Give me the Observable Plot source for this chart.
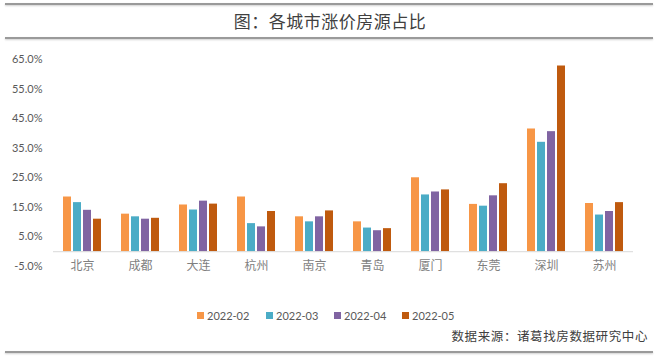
<!DOCTYPE html>
<html>
<head>
<meta charset="utf-8">
<script src="https://cdn.jsdelivr.net/npm/d3@7"></script>
<script src="https://cdn.jsdelivr.net/npm/@observablehq/plot@0.6"></script>
<style>
  html, body { margin: 0; padding: 0; background: #fff; }
  #wrap { position: relative; width: 660px; height: 358px; overflow: hidden; font-family: "Noto Sans CJK SC", sans-serif; }
  .hline { position: absolute; left: 5px; width: 648px; height: 2px; background: #9a9a9a; box-shadow: 0 1px 2px #cfcfcf; }
  #title { position: absolute; left: 0; top: 8px; width: 660px; text-align: center; font-size: 17px; color: #404040; letter-spacing: 0.5px; }
  #chart { position: absolute; left: 0; top: 42px; }
  #legend { position: absolute; top: 308px; left: 0; width: 660px; height: 16px; font-family: Lato, "Open Sans", sans-serif; font-size: 11px; color: #595959; }
  .li { position: absolute; top: 0; display: flex; align-items: center; height: 14px; }
  .sw { width: 7px; height: 7px; margin-right: 3px; }
  #source { position: absolute; top: 326px; right: 12px; font-size: 12.5px; color: #404040; letter-spacing: 0.6px; }
</style>
</head>
<body>
<div id="wrap">
  <div class="hline" style="top:3px;"></div>
  <div id="title">图：各城市涨价房源占比</div>
  <div class="hline" style="top:37px;"></div>
  <div id="chart"></div>
  <div id="legend"></div>
  <div id="source">数据来源：诸葛找房数据研究中心</div>
  <div class="hline" style="top:351px;"></div>
</div>
<script>
const cities = ["北京", "成都", "大连", "杭州", "南京", "青岛", "厦门", "东莞", "深圳", "苏州"];
const series = ["2022-02", "2022-03", "2022-04", "2022-05"];
const colors = ["#F79646", "#4BACC6", "#8064A2", "#BF5A0E"];
const v2022_02 = [18.5, 12.7, 15.8, 18.5, 11.8, 10.1, 25.0, 16.0, 41.5, 16.3];
const v2022_03 = [16.6, 11.8, 14.1, 9.5, 10.1, 8.0, 19.2, 15.4, 37.0, 12.4];
const v2022_04 = [14.0, 11.0, 17.1, 8.4, 11.8, 7.1, 20.2, 18.9, 40.6, 13.6];
const v2022_05 = [11.0, 11.3, 16.1, 13.6, 13.8, 7.8, 20.9, 23.0, 62.8, 16.6];
const yTicks = [-5, 5, 15, 25, 35, 45, 55, 65];

const valueLists = [v2022_02, v2022_03, v2022_04, v2022_05];
const data = [];
cities.forEach((c, i) => {
  series.forEach((s, j) => data.push({city: c, series: s, value: valueLists[j][i]}));
});

const chart = Plot.plot({
  width: 660,
  height: 250,
  marginLeft: 48,
  marginRight: 23,
  marginTop: 17,
  marginBottom: 34,
  style: {fontFamily: "Lato, 'Open Sans', sans-serif", fontSize: "11px", color: "#595959", background: "transparent"},
  fx: {domain: cities, padding: 0, axis: "bottom", label: null, tickSize: 0, tickPadding: 3, fontSize: 12},
  x: {domain: series, axis: null, paddingInner: 0.25, paddingOuter: 0.885},
  y: {domain: [-5, 65], range: [224, 17], ticks: yTicks, tickFormat: d => d.toFixed(1) + "%", tickSize: 0, tickPadding: 11, label: null},
  color: {domain: series, range: colors},
  marks: [
    Plot.barY(data, {fx: "city", x: "series", y: "value", fill: "series"}),
    Plot.ruleY([0], {stroke: "#d9d9d9", strokeWidth: 1})
  ]
});
chart.querySelectorAll("text").forEach(t => {
  if (cities.includes(t.textContent)) {
    t.style.fontFamily = "'Noto Sans CJK SC', sans-serif";
    t.setAttribute("fill", "#7f7f7f");
    t.style.fontSize = "12px";
  }
});
document.getElementById("chart").appendChild(chart);

const legend = document.getElementById("legend");
const lx = [197, 266, 334, 402];
series.forEach((s, i) => {
  const item = document.createElement("div");
  item.className = "li";
  item.style.left = lx[i] + "px";
  const sw = document.createElement("div");
  sw.className = "sw";
  sw.style.background = colors[i];
  const tx = document.createElement("span");
  tx.textContent = s;
  item.appendChild(sw);
  item.appendChild(tx);
  legend.appendChild(item);
});
</script>
</body>
</html>
